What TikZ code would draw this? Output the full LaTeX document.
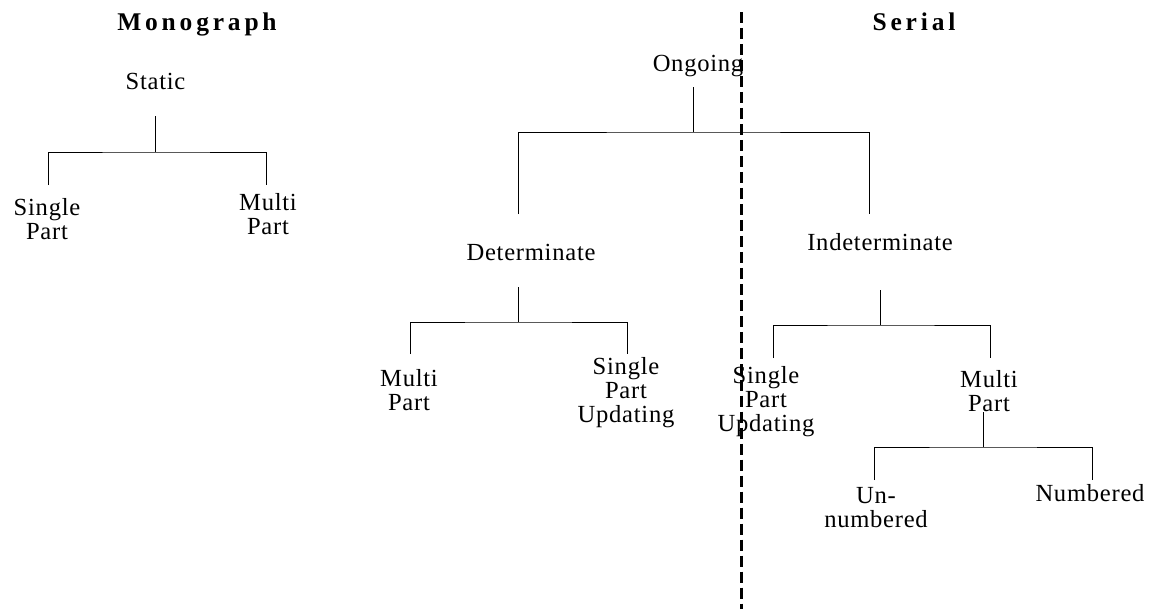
\documentclass[tikz,border=0pt]{standalone}
\usepackage{fontspec}
\setmainfont[LetterSpace=3]{Liberation Serif}
\newfontfamily\headfont[LetterSpace=15]{Liberation Serif}

\tikzset{
  lbl/.style={inner sep=0pt,align=center,anchor=base,font=\fontsize{14}{13.4}\selectfont},
  head/.style={inner sep=0pt,anchor=base,font=\headfont\bfseries\fontsize{14.5}{13.4}\selectfont},
  tree/.style={line width=0.5pt},
  sepline/.style={line width=1.7pt,dash pattern=on 6.5pt off 2.6pt}
}

\begin{document}
\begin{tikzpicture}[x=0.02cm,y=-0.02cm]
\useasboundingbox (0,0) rectangle (1149,609);
\draw (197,30) node[head](monograph) {Monograph};
\draw (914,30) node[head](serial) {Serial};
\draw (155.5,89) node[lbl](static) {Static};
\draw (47,239) node[lbl](singleA) {Single\\Part};
\draw (268,234) node[lbl](multiA) {Multi\\Part};
\draw (698,71) node[lbl](ongoing) {Ongoing};
\draw (531,260) node[lbl](determinate) {Determinate};
\draw (880,250) node[lbl](indeterminate) {Indeterminate};
\draw (409,410) node[lbl](multiB) {Multi\\Part};
\draw (626,422) node[lbl](singleB) {Single\\Part\\Updating};
\draw (766,431) node[lbl](singleC) {Single\\Part\\Updating};
\draw (989,411) node[lbl](multiC) {Multi\\Part};
\draw (876,527) node[lbl](unnumbered) {Un-\\numbered};
\draw (1090,501) node[lbl](numbered) {Numbered};
% bend points of the trees
\coordinate (static top) at (155,116);
\coordinate (static bar) at (155,152);
\coordinate (static l) at (48,185);
\coordinate (static r) at (266,185);
\coordinate (ongoing top) at (693,87);
\coordinate (ongoing bar) at (693,132);
\coordinate (ongoing l) at (518,214);
\coordinate (ongoing r) at (869,214);
\coordinate (det top) at (518,287);
\coordinate (det bar) at (518,322);
\coordinate (det l) at (410,354);
\coordinate (det r) at (627,354);
\coordinate (indet top) at (880,290);
\coordinate (indet bar) at (880,325);
\coordinate (indet l) at (773,358);
\coordinate (indet r) at (990,358);
\coordinate (multi top) at (983,412);
\coordinate (multi bar) at (983,447);
\coordinate (multi l) at (874,480);
\coordinate (multi r) at (1092,480);
\draw[tree] (static top) -- (static bar);
\draw[tree] (static l) |- (static bar) -| (static r);
\draw[tree] (ongoing top) -- (ongoing bar);
\draw[tree] (ongoing l) |- (ongoing bar) -| (ongoing r);
\draw[tree] (det top) -- (det bar);
\draw[tree] (det l) |- (det bar) -| (det r);
\draw[tree] (indet top) -- (indet bar);
\draw[tree] (indet l) |- (indet bar) -| (indet r);
\draw[tree] (multi top) -- (multi bar);
\draw[tree] (multi l) |- (multi bar) -| (multi r);
% dividing line
\coordinate (sep top) at (741,12);
\coordinate (sep bot) at (741,609);
\draw[sepline] (sep top) -- (sep bot);
\end{tikzpicture}
\end{document}
